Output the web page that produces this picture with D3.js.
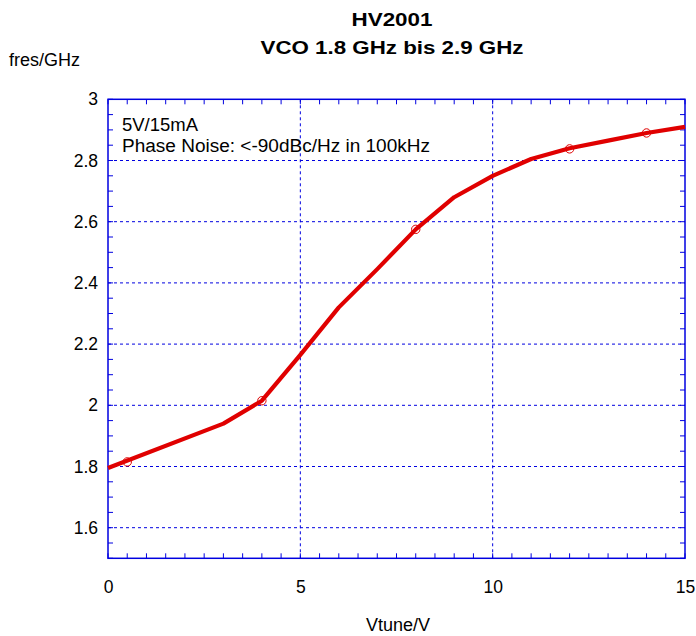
<!DOCTYPE html>
<html><head><meta charset="utf-8">
<script src="https://cdn.jsdelivr.net/npm/d3@7"></script>
<style>body{margin:0;background:#fff}svg{display:block}text{font-family:"Liberation Sans",Arial,sans-serif}</style>
</head><body>
<script>
const vtune = [0, 3, 4, 5, 6, 7, 8, 9, 10, 11, 12, 13, 14, 15];
const fres  = [1.795, 1.94, 2.015, 2.165, 2.32, 2.445, 2.575, 2.68, 2.75, 2.805, 2.84, 2.865, 2.89, 2.91];
const markerX = [0.5, 4, 8, 12, 14];
const markerY = [1.815, 2.015, 2.575, 2.838, 2.89];
const xTicks = [0, 5, 10, 15];
const yTicks = [1.6, 1.8, 2.0, 2.2, 2.4, 2.6, 2.8, 3.0];
const titleLines = ["HV2001", "VCO 1.8 GHz bis 2.9 GHz"];
const notes = ["5V/15mA", "Phase Noise: <-90dBc/Hz in 100kHz"];

const W = 696, H = 636;
const L = 108, R = 685, T = 99.3, B = 558.3;
const svg = d3.select("body").append("svg").attr("width", W).attr("height", H);
const x = d3.scaleLinear().domain([0, 15]).range([L, R]);
const y = d3.scaleLinear().domain([1.5, 3.0]).range([B, T]);
const blue = "#0000e0";
const FF = '"Liberation Sans",Arial,sans-serif';

// grid
const g = svg.append("g");
g.selectAll(".gx").data(xTicks.filter(d => d > 0 && d < 15)).join("line")
  .attr("x1", d => x(d)).attr("x2", d => x(d)).attr("y1", T).attr("y2", B)
  .attr("stroke", blue).attr("stroke-width", 1).attr("stroke-dasharray", "3,3");
g.selectAll(".gy").data(yTicks.filter(d => d < 3)).join("line")
  .attr("y1", d => y(d)).attr("y2", d => y(d)).attr("x1", L).attr("x2", R)
  .attr("stroke", blue).attr("stroke-width", 1).attr("stroke-dasharray", "3,3");

// minor ticks inside
const xMinor = d3.range(0, 15.001, 0.5);
const yMinor = d3.range(1.5, 3.0001, 0.05);
g.selectAll(".mxb").data(xMinor).join("line")
  .attr("x1", d => x(d)).attr("x2", d => x(d)).attr("y1", B).attr("y2", B - 5).attr("stroke", blue);
g.selectAll(".mxt").data(xMinor).join("line")
  .attr("x1", d => x(d)).attr("x2", d => x(d)).attr("y1", T).attr("y2", T + 5).attr("stroke", blue);
g.selectAll(".myl").data(yMinor).join("line")
  .attr("y1", d => y(d)).attr("y2", d => y(d)).attr("x1", L).attr("x2", L + 5).attr("stroke", blue);
g.selectAll(".myr").data(yMinor).join("line")
  .attr("y1", d => y(d)).attr("y2", d => y(d)).attr("x1", R).attr("x2", R - 5).attr("stroke", blue);

// frame
svg.append("rect").attr("x", L).attr("y", T).attr("width", R - L).attr("height", B - T)
  .attr("fill", "none").attr("stroke", blue).attr("stroke-width", 1.5);

// axes labels via d3 axes (no lines)
const xAxis = svg.append("g").attr("transform", `translate(0,${B})`)
  .call(d3.axisBottom(x).tickValues(xTicks).tickSize(0).tickPadding(22).tickFormat(d3.format("d")));
xAxis.select(".domain").remove();
xAxis.selectAll("text").attr("font-size", 17.5).attr("fill", "#000").style("font-family", FF);
const yAxis = svg.append("g").attr("transform", `translate(${L},0)`)
  .call(d3.axisLeft(y).tickValues(yTicks).tickSize(0).tickPadding(10).tickFormat(d => d3.format("")(+d.toFixed(1))));
yAxis.select(".domain").remove();
yAxis.selectAll("text").attr("font-size", 17.5).attr("fill", "#000").style("font-family", FF);

// curve
const pts = vtune.map((v, i) => [v, fres[i]]);
svg.append("path").datum(pts)
  .attr("d", d3.line().x(d => x(d[0])).y(d => y(d[1])))
  .attr("fill", "none").attr("stroke", "#e00000").attr("stroke-width", 4.2).attr("stroke-linejoin", "round");
svg.selectAll(".mk").data(markerX.map((v, i) => [v, markerY[i]])).join("circle")
  .attr("cx", d => x(d[0])).attr("cy", d => y(d[1])).attr("r", 4.2)
  .attr("fill", "none").attr("stroke", "#e00000").attr("stroke-width", 1);

// texts
const titleW = [81, 263];
svg.selectAll(".tt").data(titleLines).join("text")
  .attr("x", 392).attr("y", (d, i) => 26 + i * 27.5).attr("text-anchor", "middle")
  .attr("font-size", 18).attr("font-weight", "bold")
  .attr("textLength", (d, i) => titleW[i]).attr("lengthAdjust", "spacingAndGlyphs").text(d => d);
const noteW = [76, 308];
svg.selectAll(".nt").data(notes).join("text")
  .attr("x", 122).attr("y", (d, i) => 130.5 + i * 21.5)
  .attr("font-size", 18).attr("textLength", (d, i) => noteW[i]).attr("lengthAdjust", "spacingAndGlyphs")
  .text(d => d);
svg.append("text").attr("x", 9).attr("y", 66).attr("font-size", 18).text("fres/GHz");
svg.append("text").attr("x", 398).attr("y", 631).attr("text-anchor", "middle").attr("font-size", 18).text("Vtune/V");
</script>
</body></html>
